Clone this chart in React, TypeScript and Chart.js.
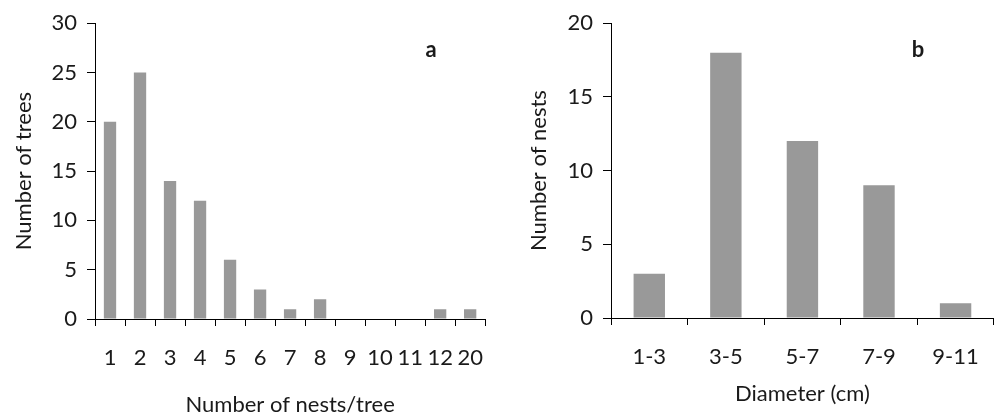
import React, { useEffect, useRef } from "react";
import { Chart, registerables } from "chart.js";

Chart.register(...registerables);

// Panel a
const nestsPerTree = ["1", "2", "3", "4", "5", "6", "7", "8", "9", "10", "11", "12", "20"];
const treeCounts = [20, 25, 14, 12, 6, 3, 1, 2, 0, 0, 0, 1, 1];
// Panel b
const diameterClasses = ["1-3", "3-5", "5-7", "7-9", "9-11"];
const nestCounts = [3, 18, 12, 9, 1];

const FONT = "Lato, 'Open Sans', sans-serif";
const TEXT = "#1a1a1a";
const BAR = "#999999";
const FS = 22;

type PanelProps = {
  labels: string[];
  data: number[];
  yMax: number;
  xTitle: string;
  yTitle: string;
  letter: string;
  width: number;
  left: number;
  yWidth: number;
  xHeight: number;
  padRight: number;
  yTitlePad: number;
  xTitlePad: number;
  letterX: number;
  letterY: number;
};

function Panel(p: PanelProps) {
  const ref = useRef<HTMLCanvasElement | null>(null);
  useEffect(() => {
    if (!ref.current) return;
    const letterPlugin = {
      id: "panelLetter",
      afterDraw(chart: any) {
        const ctx = chart.ctx;
        ctx.save();
        ctx.font = `bold 22px ${FONT}`;
        ctx.fillStyle = TEXT;
        ctx.textAlign = "center";
        ctx.textBaseline = "alphabetic";
        ctx.fillText(p.letter, p.letterX, p.letterY);
        ctx.restore();
      },
    };
    const chart = new Chart(ref.current, {
      type: "bar",
      data: {
        labels: p.labels,
        datasets: [
          {
            data: p.data,
            backgroundColor: BAR,
            borderWidth: 0,
            categoryPercentage: 1,
            barPercentage: 0.41,
          },
        ],
      },
      options: {
        responsive: false,
        animation: false,
        layout: { padding: { top: 17, right: p.padRight, bottom: 0, left: 0 } },
        plugins: { legend: { display: false }, tooltip: { enabled: false } },
        scales: {
          x: {
            afterFit: (s: any) => {
              s.height = p.xHeight;
            },
            grid: {
              offset: true,
              drawOnChartArea: false,
              drawTicks: true,
              tickLength: 7,
              color: "#000",
            },
            border: { display: true, color: "#000", width: 1 },
            ticks: {
              color: TEXT,
              font: { family: FONT, size: FS },
              padding: 19,
              maxRotation: 0,
              autoSkip: false,
            },
            title: {
              display: true,
              text: p.xTitle,
              color: TEXT,
              font: { family: FONT, size: FS },
              padding: { top: 0, bottom: p.xTitlePad },
            },
          },
          y: {
            min: 0,
            max: p.yMax,
            afterFit: (s: any) => {
              s.width = p.yWidth;
            },
            grid: {
              drawOnChartArea: false,
              drawTicks: true,
              tickLength: 8,
              color: "#000",
            },
            border: { display: true, color: "#000", width: 1 },
            ticks: {
              stepSize: 5,
              color: TEXT,
              font: { family: FONT, size: FS },
              padding: 10,
            },
            title: {
              display: true,
              text: p.yTitle,
              color: TEXT,
              font: { family: FONT, size: FS },
              padding: { top: p.yTitlePad, bottom: 0 },
            },
          },
        },
      },
      plugins: [letterPlugin],
    });
    return () => chart.destroy();
  }, []);
  return (
    <canvas
      ref={ref}
      width={p.width}
      height={419}
      style={{ position: "absolute", left: p.left, top: 0, width: p.width, height: 419 }}
    />
  );
}

export default function App() {
  return (
    <div
      style={{
        position: "fixed",
        left: 0,
        top: 0,
        width: 998,
        height: 419,
        background: "#fff",
        overflow: "hidden",
      }}
    >
      <Panel
        labels={nestsPerTree}
        data={treeCounts}
        yMax={30}
        xTitle="Number of nests/tree"
        yTitle="Number of trees"
        letter="a"
        width={502}
        left={0}
        yWidth={95}
        xHeight={100}
        padRight={2}
        yTitlePad={11}
        xTitlePad={1}
        letterX={431}
        letterY={57}
      />
      <Panel
        labels={diameterClasses}
        data={nestCounts}
        yMax={20}
        xTitle="Diameter (cm)"
        yTitle="Number of nests"
        letter="b"
        width={498}
        left={500}
        yWidth={111}
        xHeight={101}
        padRight={2}
        yTitlePad={26}
        xTitlePad={12}
        letterX={418}
        letterY={57}
      />
    </div>
  );
}
